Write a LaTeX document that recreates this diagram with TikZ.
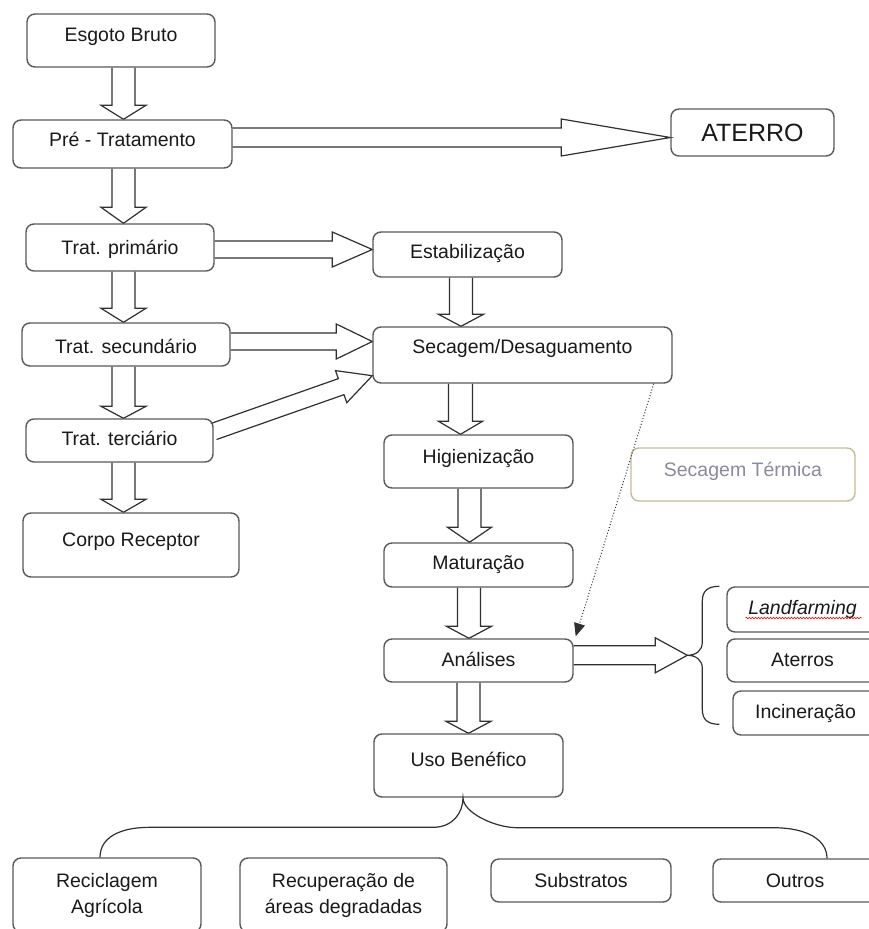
\documentclass[tikz,border=0pt]{standalone}
\usepackage{fontspec}
\setmainfont{Liberation Sans}
\usetikzlibrary{positioning,arrows.meta,calc,backgrounds,decorations.pathmorphing}

\definecolor{boxgray}{HTML}{595959}
\definecolor{inkgray}{HTML}{303030}
\definecolor{beigeline}{HTML}{C4BC96}
\definecolor{softtext}{HTML}{8A8A9A}

% start, end, shaft half width, head half width, head length
\newcommand{\fatarrow}[5]{%
  \coordinate (fa-s) at (#1);
  \coordinate (fa-e) at (#2);
  \coordinate (fa-h) at ($(fa-e)!#5!(fa-s)$);
  \filldraw[fat] ($(fa-s)!#3!90:(fa-e)$) -- ($(fa-h)!#3!90:(fa-e)$) -- ($(fa-h)!#4!90:(fa-e)$) -- (fa-e)
    -- ($(fa-h)!#4!-90:(fa-e)$) -- ($(fa-h)!#3!-90:(fa-e)$) -- ($(fa-s)!#3!-90:(fa-e)$);
}

\begin{document}
\begin{tikzpicture}[
      x=1pt, y=-1pt,
      font=\fontsize{19.5}{26}\selectfont,
      box/.style={draw=boxgray, line width=1.4pt, rounded corners=8pt, align=center, inner sep=0pt, text=black!90},
      tbox/.style={box, text height=14pt, text depth=#1},
      tbox/.default=4pt,
      fat/.style={draw=inkgray, fill=white, line width=1.2pt, line join=miter},
      line/.style={draw=inkgray, line width=1.2pt},
      dotline/.style={draw=inkgray, line width=1pt, dotted, -{Triangle[length=13pt,width=11pt]}},
    ]
    \useasboundingbox (0,0) rectangle (869,929);
    \clip (0,0) rectangle (869,929);

    \node[tbox=12pt, minimum width=188pt, minimum height=53pt] (esg) at (121,40.5) {Esgoto Bruto};
    \node[tbox=9pt, minimum width=219pt, minimum height=48pt] (pre) at (122.5,144) {Pré - Tratamento};
    \node[tbox=1pt, text height=18pt, minimum width=163pt, minimum height=47pt, font=\fontsize{25}{30}\selectfont] (ate) at (752.5,132.5) {ATERRO};
    \node[tbox=1pt, minimum width=188pt, minimum height=47pt] (pri) at (120,247.5) {Trat. primário};
    \node[tbox=0pt, text height=18pt, minimum width=208pt, minimum height=43pt] (sec2) at (126,344.5) {Trat. secundário};
    \node[tbox, minimum width=187pt, minimum height=43pt] (ter) at (119.5,440.5) {Trat. terciário};
    \node[tbox=11pt, minimum width=216pt, minimum height=64pt] (cor) at (131,545) {Corpo Receptor};

    \node[tbox=6pt, minimum width=189pt, minimum height=45pt] (est) at (467.5,254.5) {Estabilização};
    \node[tbox=17pt, minimum width=299pt, minimum height=56pt] (sec) at (522.5,355) {Secagem/Desaguamento};
    \node[tbox=10pt, minimum width=189pt, minimum height=53pt] (hig) at (478.5,461.5) {Higienização};
    \node[tbox=5pt, minimum width=189pt, minimum height=44pt] (mat) at (478.5,565) {Maturação};
    \node[tbox=2pt, minimum width=189pt, minimum height=43pt] (ana) at (478.5,660.5) {Análises};
    \node[tbox=12pt, minimum width=189pt, minimum height=63pt] (uso) at (468.5,765.5) {Uso Benéfico};

    \node[tbox=10pt, draw=beigeline, text=softtext, minimum width=224pt, minimum height=53pt] (sterm) at (743,474.5) {Secagem Térmica};

    \node[tbox, minimum width=151pt, minimum height=45pt] (land) at (802.5,609.5) {\textit{Landfarming}};
    \node[tbox=2pt, minimum width=151pt, minimum height=43pt] (atr) at (802.5,660.5) {Aterros};
    \node[tbox=3pt, minimum width=145pt, minimum height=44pt] (inc) at (805.5,713) {Incineração};
    \draw[red, line width=0.6pt, decorate, decoration={snake, amplitude=0.8pt, segment length=3pt}]
      ([xshift=-57pt,yshift=-3.5pt]land.base) -- ([xshift=59pt,yshift=-3.5pt]land.base);

    \node[box, minimum width=188pt, minimum height=74pt] (rec) at (107,895) {Reciclagem\\Agrícola};
    \node[box, minimum width=207pt, minimum height=74pt] (recu) at (343.5,895) {Recuperação de\\áreas degradadas};
    \node[tbox=1pt, minimum width=180pt, minimum height=43pt] (sub) at (581,880.5) {Substratos};
    \node[tbox=1pt, minimum width=164pt, minimum height=43pt] (oth) at (795,880.5) {Outros};

    \coordinate (b1) at ([xshift=-7pt]land.north west);
    \coordinate (btip) at ($(b1)+(-32,69)$);
    \coordinate (b2) at ($(b1)+(0,138)$);
    \draw[line] (b1) .. controls +(-12,0) and +(0,-10) .. ++(-17,15) -- ++(0,41)
      .. controls +(0,8) and +(9,0) .. (btip) .. controls +(9,0) and +(0,-8) .. ++(15,13)
      -- ++(0,41) .. controls +(0,10) and +(-12,0) .. (b2);

    \coordinate (tl) at ([xshift=-7pt]rec.north);
    \coordinate (tr) at ([xshift=32pt]oth.north);
    \coordinate (ftip) at ([xshift=-5.5pt]uso.south);
    \draw[line] (tl) .. controls +(0,-20) and +(-30,0) .. ++(50,-30) -- ++(283,0)
      .. controls +(20,0) and +(0,15) .. (ftip) .. controls +(0,15) and +(-22,0) .. ++(54,30)
      -- ++(256,0) .. controls +(35,0) and +(0,-18) .. (tr);

    \draw[dotline] ([xshift=-19pt]sec.south east) -- ([xshift=2pt,yshift=2pt]ana.north east);

    \begin{scope}[on background layer]
      \fatarrow{[xshift=2.5pt]esg.south}{[xshift=2.5pt]esg.south |- pre.north}{11.5pt}{22.5pt}{14pt}
      \fatarrow{[xshift=1pt]pre.south}{[xshift=1pt]pre.south |- pri.north}{11.5pt}{22.5pt}{16pt}
      \fatarrow{[xshift=3.5pt]pri.south}{[xshift=3.5pt]pri.south |- sec2.north}{11.5pt}{22.5pt}{14pt}
      \fatarrow{[xshift=-2.5pt]sec2.south}{[xshift=-2.5pt]sec2.south |- ter.north}{11.5pt}{22.5pt}{12pt}
      \fatarrow{[xshift=4pt]ter.south}{[xshift=4pt]ter.south |- cor.north}{11.5pt}{22.5pt}{13pt}

      \fatarrow{[xshift=-6.5pt]est.south}{[xshift=-6.5pt]est.south |- sec.north}{11.5pt}{22.5pt}{12pt}
      \fatarrow{[xshift=-18pt]hig.north |- sec.south}{[xshift=-18pt]hig.north}{12pt}{22pt}{13pt}
      \fatarrow{[xshift=-9pt]hig.south}{[xshift=-9pt]hig.south |- mat.north}{11.5pt}{22pt}{15pt}
      \fatarrow{[xshift=-9.5pt]mat.south}{[xshift=-9.5pt]mat.south |- ana.north}{11.5pt}{22.5pt}{12pt}
      \fatarrow{uso.north |- ana.south}{uso.north}{11.5pt}{22.5pt}{12pt}

      \fatarrow{[yshift=6.5pt]pre.east}{[yshift=6.5pt]pre.east -| ate.west}{9.5pt}{18.5pt}{109pt}
      \fatarrow{[yshift=-2pt]pri.east}{[yshift=-2pt]pri.east -| est.west}{8.5pt}{17.5pt}{40pt}
      \fatarrow{[yshift=3pt]sec2.east}{[yshift=3pt]sec2.east -| sec.west}{8.5pt}{17.5pt}{36pt}
      \fatarrow{[yshift=9pt]ter.east}{[yshift=8pt]sec.south west}{8.5pt}{17pt}{33pt}
      \fatarrow{btip -| ana.east}{btip}{9.5pt}{17.5pt}{32pt}
    \end{scope}
  \end{tikzpicture}
\end{document}
